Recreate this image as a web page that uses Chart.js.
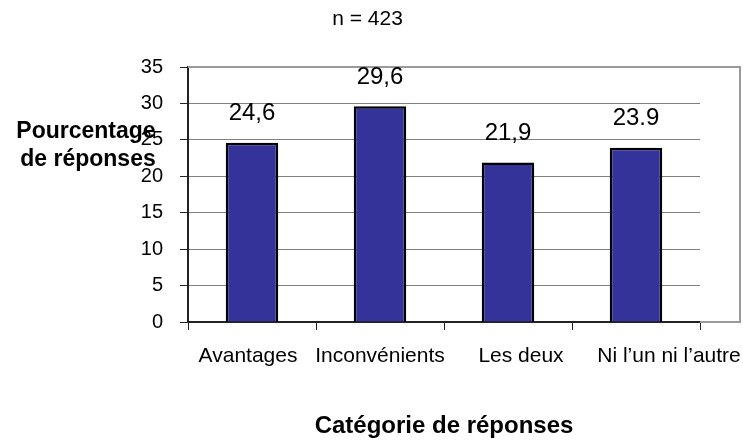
<!DOCTYPE html>
<html>
<head>
<meta charset="utf-8">
<script src="https://cdn.jsdelivr.net/npm/chart.js@4.4.0/dist/chart.umd.min.js"></script>
<style>
  html, body { margin: 0; padding: 0; background: #fff; }
  #wrap { width: 743px; height: 443px; }
</style>
</head>
<body>
<div id="wrap"><canvas id="bar-chart" width="743" height="443"></canvas></div>
<script>
// chart data
const categories = ['Avantages', 'Inconvénients', 'Les deux', 'Ni l\u2019un ni l\u2019autre'];
const values = [24.6, 29.6, 21.9, 23.9];
const valueLabels = ['24,6', '29,6', '21,9', '23.9'];
const sampleText = 'n = 423';
const yTitleLines = ['Pourcentage', 'de réponses'];
const xTitle = 'Catégorie de réponses';

const FONT = '"Liberation Sans", Arial, sans-serif';
// the original nudges some category labels sideways so they don't collide
const labelShift = [-4, 0, 13, 33];

// draws the value above each bar, the category labels, the n label, the y title and the outer frame
const extrasPlugin = {
    id: 'extras',
    afterDraw(chart) {
        const ctx = chart.ctx;
        const area = chart.chartArea;
        const xScale = chart.scales.x;
        ctx.save();

        // grey frame round the plot, wider than the axis
        ctx.strokeStyle = '#9a9a9a';
        ctx.lineWidth = 2;
        ctx.beginPath();
        ctx.moveTo(area.left, area.top);
        ctx.lineTo(area.right + 40, area.top);
        ctx.lineTo(area.right + 40, area.bottom);
        ctx.lineTo(area.right, area.bottom);
        ctx.stroke();

        ctx.fillStyle = '#000';
        ctx.textAlign = 'center';
        ctx.textBaseline = 'middle';

        // values above bars
        ctx.font = '24px ' + FONT;
        const meta = chart.getDatasetMeta(0);
        meta.data.forEach((bar, i) => {
            ctx.fillText(valueLabels[i], bar.x, bar.y - 29);
        });

        // category labels
        ctx.font = '21px ' + FONT;
        categories.forEach((c, i) => {
            ctx.fillText(c, xScale.getPixelForValue(i) + labelShift[i], area.bottom + 34);
        });

        // n label
        ctx.font = '21px ' + FONT;
        ctx.fillText(sampleText, chart.width / 2 - 4, 19);

        // horizontal y title, overlapping the ticks like the original
        ctx.font = 'bold 23px ' + FONT;
        ctx.fillText(yTitleLines[0], 86, 132);
        ctx.fillText(yTitleLines[1], 88, 160);

        ctx.restore();
    }
};

const ctxBar = document.getElementById('bar-chart').getContext('2d');
window.myBarChart = new Chart(ctxBar, {
    type: 'bar',
    data: {
        labels: categories,
        datasets: [{
            data: values,
            backgroundColor: '#333399',
            borderColor: '#000',
            borderWidth: 2.5,
            barPercentage: 0.41,
            categoryPercentage: 1
        }]
    },
    options: {
        responsive: false,
        animation: false,
        devicePixelRatio: 1,
        layout: {
            padding: { left: 0, top: 67, right: 43, bottom: 0 }
        },
        plugins: {
            legend: { display: false },
            tooltip: { enabled: false },
            title: { display: false }
        },
        scales: {
            y: {
                min: 0,
                max: 35,
                afterFit: scale => { scale.width = 188; },
                ticks: {
                    stepSize: 5,
                    color: '#000',
                    padding: 17,
                    font: { family: FONT, size: 20 }
                },
                grid: {
                    color: '#808080',
                    lineWidth: 1,
                    tickLength: 8,
                    tickColor: '#222'
                },
                border: { color: '#222', width: 2 }
            },
            x: {
                afterFit: scale => { scale.height = 121; },
                ticks: {
                    display: false
                },
                grid: {
                    drawOnChartArea: false,
                    tickLength: 8,
                    tickColor: '#222',
                    offset: true
                },
                border: { color: '#222', width: 2 },
                title: {
                    display: true,
                    text: xTitle,
                    color: '#000',
                    padding: { top: 0, bottom: 2 },
                    font: { family: FONT, size: 24, weight: 'bold' }
                }
            }
        }
    },
    plugins: [extrasPlugin]
});
</script>
</body>
</html>
